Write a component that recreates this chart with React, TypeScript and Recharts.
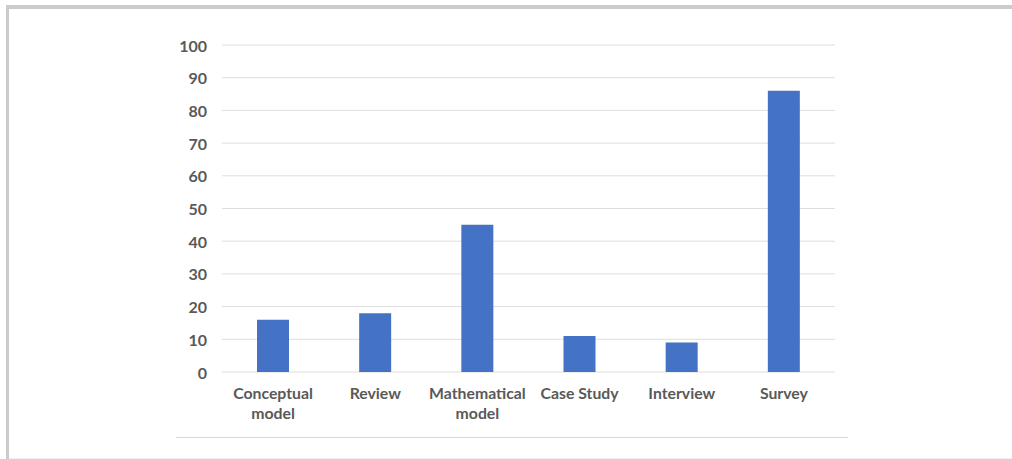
import React from "react";
import { BarChart, Bar, XAxis, YAxis, CartesianGrid } from "recharts";

const categories = ["Conceptual model", "Review", "Mathematical model", "Case Study", "Interview", "Survey"];
const counts = [16, 18, 45, 11, 9, 86];
const categoryLines = [["Conceptual", "model"], ["Review"], ["Mathematical", "model"], ["Case Study"], ["Interview"], ["Survey"]];
const yTicks = [0, 10, 20, 30, 40, 50, 60, 70, 80, 90, 100];

const data = categories.map((name, i) => ({ name, value: counts[i], lines: categoryLines[i] }));

const FONT = "Lato, 'Open Sans', sans-serif";
const LABEL = "#595959";

const XTick = (props: any) => {
  const { x, y, index } = props;
  const lines = categoryLines[index] || [props.payload.value];
  return (
    <g>
      {lines.map((l: string, k: number) => (
        <text
          key={k}
          x={x}
          y={y + 12 + k * 20}
          textAnchor="middle"
          dominantBaseline="central"
          fontFamily={FONT}
          fontWeight={700}
          fontSize={15.8}
          fill={LABEL}
        >
          {l}
        </text>
      ))}
    </g>
  );
};

const YTick = (props: any) => {
  const { y, payload } = props;
  return (
    <text
      x={207}
      y={y}
      textAnchor="end"
      dominantBaseline="central"
      fontFamily={FONT}
      fontWeight={700}
      fontSize={16}
      fill={LABEL}
    >
      {payload.value}
    </text>
  );
};

export default function App() {
  return (
    <div style={{ position: "absolute", left: 0, top: 0, width: 1012, height: 459, background: "#fff", overflow: "hidden" }}>
      {/* outer frame: top and left edges */}
      <div style={{ position: "absolute", left: 6, top: 5, right: 0, height: 4, background: "#cbcbcb" }} />
      <div style={{ position: "absolute", left: 6, top: 5, width: 3, bottom: 0, background: "#cbcbcb" }} />
      <div style={{ position: "absolute", left: 9, bottom: 0, right: 0, height: 1, background: "#f0f0f0" }} />
      {/* chart area bottom rule */}
      <div style={{ position: "absolute", left: 176, top: 437, width: 672, height: 1, background: "#d9d9d9" }} />
      <div style={{ position: "absolute", left: 0, top: 0 }}>
        <BarChart
          width={1012}
          height={459}
          data={data}
          margin={{ top: 45, right: 177, bottom: 47, left: 162 }}
          barCategoryGap={0}
        >
          <CartesianGrid vertical={false} stroke="#dedede" strokeWidth={1} />
          <XAxis
            dataKey="name"
            axisLine={false}
            tickLine={false}
            interval={0}
            height={40}
            tick={<XTick />}
          />
          <YAxis
            width={60}
            domain={[0, 100]}
            ticks={yTicks}
            axisLine={false}
            tickLine={false}
            tick={<YTick />}
          />
          <Bar dataKey="value" fill="#4472C4" barSize={32} isAnimationActive={false} />
        </BarChart>
      </div>
    </div>
  );
}
